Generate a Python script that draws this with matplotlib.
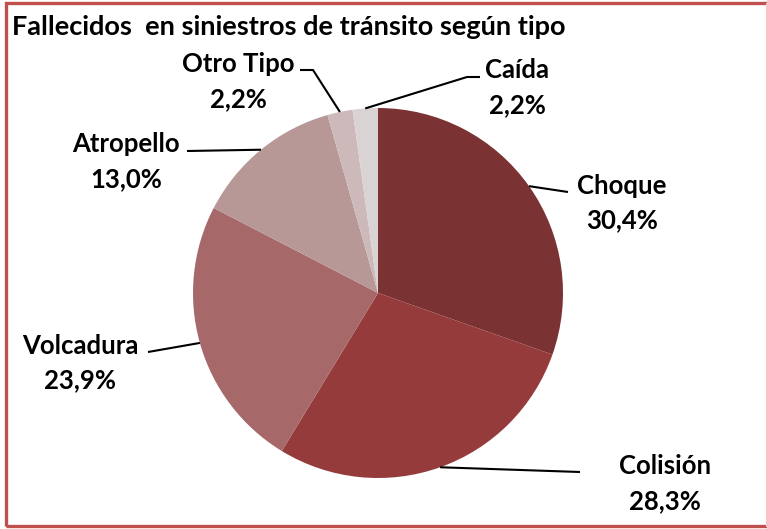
import matplotlib
matplotlib.use('Agg')
import matplotlib.pyplot as plt
import numpy as np
from matplotlib.patches import Rectangle
from matplotlib.lines import Line2D

## Datos
tipos = ['Choque', 'Colisión', 'Volcadura', 'Atropello', 'Otro Tipo', 'Caída']
porcentajes = [30.4, 28.3, 23.9, 13.0, 2.2, 2.2]
etiquetas = ['30,4%', '28,3%', '23,9%', '13,0%', '2,2%', '2,2%']
colores = ['#7B3232', '#953B3B', '#A66868', '#B89797', '#CDB9B9', '#D9D3D3']

## Layout (pixels, origin top-left)
W, H = 767, 529
centro = (378, 293)
radio = 185
pos_texto = [(622, 203), (665, 484), (80, 363), (126, 162), (238, 82), (517, 88)]
codos = [[(568, 192)], [(580, 472)], [(148, 352)], [(187, 151)],
         [(313, 70), (300, 70)], [(467, 77), (480, 77)]]

fig = plt.figure(figsize=(W / 100, H / 100), dpi=100)
ax = fig.add_axes([0, 0, 1, 1])

wedges, _ = ax.pie(porcentajes, colors=colores, startangle=90, counterclock=False,
                   center=(centro[0], H - centro[1]), radius=radio,
                   wedgeprops=dict(linewidth=0))
ax.set_xlim(0, W)
ax.set_ylim(0, H)
ax.set_aspect('auto')
ax.axis('off')

fuente = 'Lato'
for w, tipo, txt, (tx, ty), pts in zip(wedges, tipos, etiquetas, pos_texto, codos):
    ang = np.deg2rad((w.theta1 + w.theta2) / 2)
    x0 = w.center[0] + w.r * np.cos(ang)
    y0 = w.center[1] + w.r * np.sin(ang)
    xs = [x0] + [p[0] for p in pts]
    ys = [y0] + [H - p[1] for p in pts]
    ax.plot(xs, ys, color='black', lw=1.5, solid_capstyle='butt')
    ax.text(tx, H - ty, tipo + '\n' + txt, ha='center', va='center',
            fontsize=18.5, fontweight='bold', family=fuente, linespacing=1.55)

ax.text(12, H - 27, 'Fallecidos  en siniestros de tránsito según tipo', ha='left',
        va='center', fontsize=19.5, fontweight='bold', family=fuente)

## Borde
fig.patches.append(Rectangle((5.5 / W, 3 / H), 1.2, (H - 5.5) / H, transform=fig.transFigure,
                             fill=False, edgecolor='#C0504D', lw=2.4))
fig.lines.append(Line2D([765.5 / W, 765.5 / W], [3 / H, 1 - 3 / H], transform=fig.transFigure,
                        color='#F2C4C4', lw=0.8))

fig.savefig('out.png', dpi=100)
